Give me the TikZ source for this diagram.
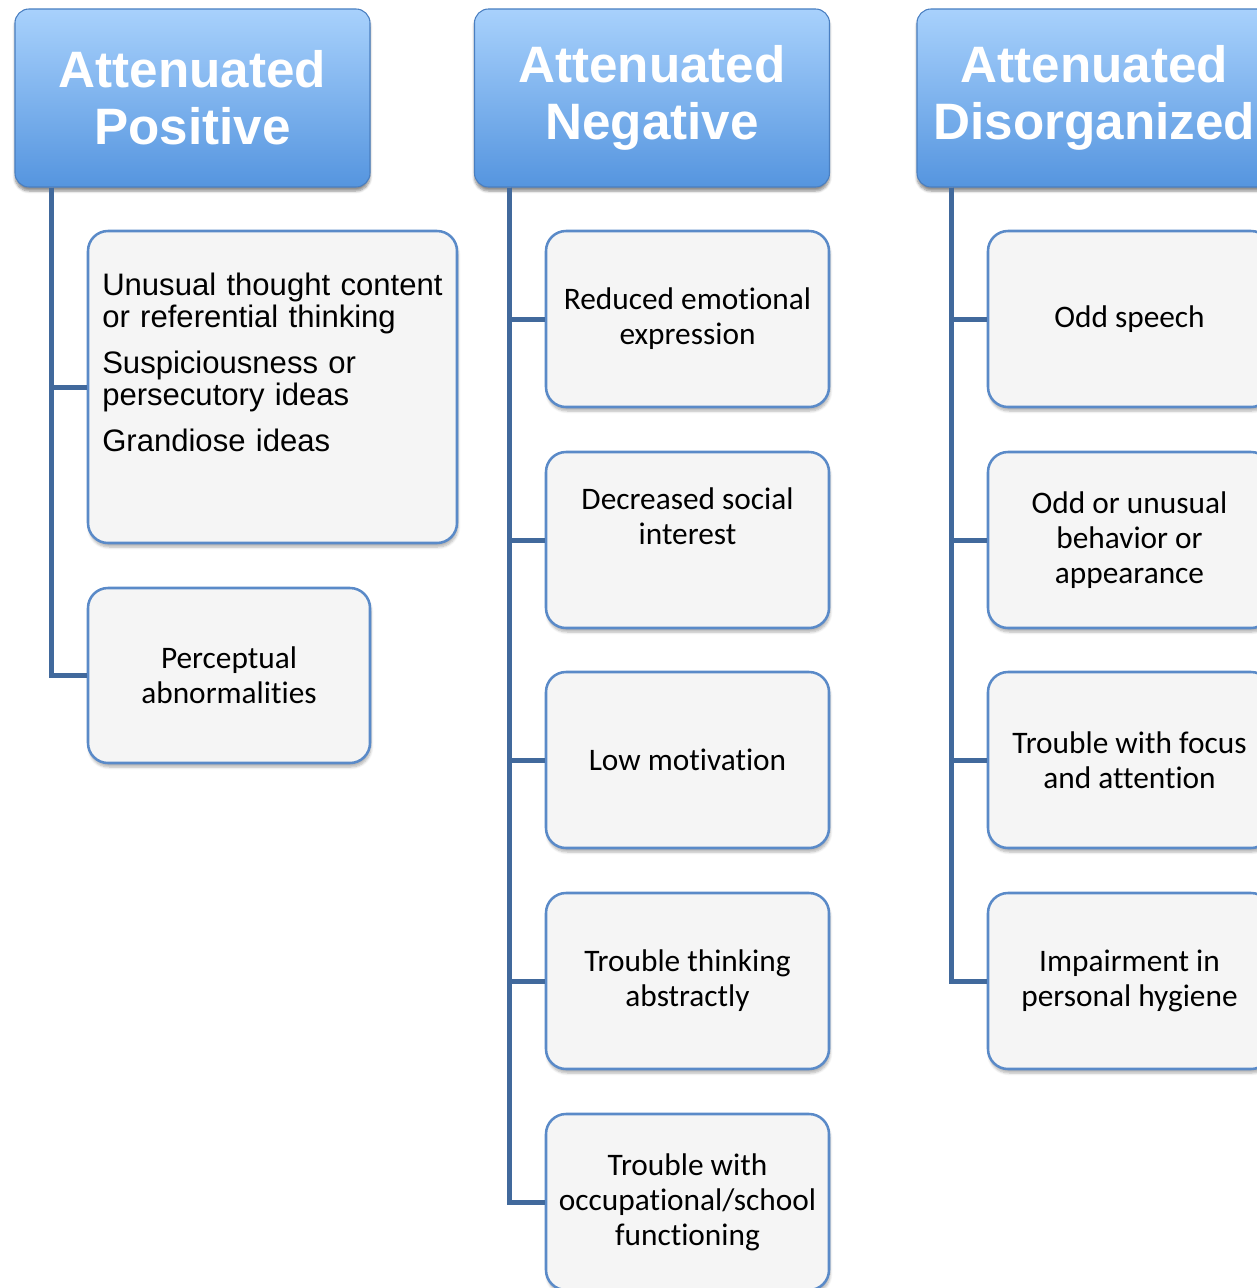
\documentclass[tikz,border=0pt]{standalone}
\usepackage{fontspec}
\setmainfont{Carlito}[Ligatures=CommonOff]
\newfontfamily\arialfont{Liberation Sans}
\usetikzlibrary{shadows.blur}

\definecolor{hdrtop}{HTML}{A8D1FC}
\definecolor{hdrbot}{HTML}{5595DF}
\definecolor{hdredge}{HTML}{4A7FC1}
\definecolor{linkblue}{HTML}{41699C}
\definecolor{boxedge}{HTML}{5A8AC8}
\definecolor{boxfill}{HTML}{F5F5F5}

\tikzset{
  header/.style={rounded corners=10.5pt, top color=hdrtop, bottom color=hdrbot,
    draw=hdredge, line width=0.8pt, minimum width=266.25pt, minimum height=133.5pt,
    inner sep=0pt, text=white, align=center,
    font=\arialfont\bfseries\fontsize{38.4}{42.75}\selectfont,
    blur shadow={shadow xshift=0pt, shadow yshift=-3pt, shadow opacity=45, shadow blur steps=6}},
  item/.style={rounded corners=15pt, fill=boxfill, draw=boxedge, line width=1.9pt,
    minimum width=212.25pt, minimum height=132pt, inner sep=0pt, align=center,
    font=\fontsize{23.5}{26.25}\selectfont,
    blur shadow={shadow xshift=0.8pt, shadow yshift=-3pt, shadow opacity=30, shadow blur steps=6}},
  itemtext/.style={inner sep=0pt, align=center, font=\fontsize{23.5}{26.25}\selectfont},
  link/.style={draw=linkblue, line width=3.75pt},
}

\begin{document}
\begin{tikzpicture}[x=0.75pt, y=-0.75pt]
  \useasboundingbox (0,0) rectangle (1256,1288);

  % column headers
  \node[header] (h1) at (192.5,98) {Attenuated\\Positive};
  \node[header] (h2) at (652,98) {Attenuated\\Negative};
  \node[header] (h3) at (1094.5,98) {Attenuated\\Disorganized};

  % positive symptoms
  \node[item, minimum width=276.75pt, minimum height=234pt] (p1) at (272.5,387) {};
  \node[inner sep=0pt, anchor=north west, text width=260pt, align=left,
        font=\arialfont\fontsize{23.3}{24}\selectfont] (p1t) at (102,273)
        {Unusual thought content\\or referential thinking\\[10.5pt]
         Suspiciousness or\\persecutory ideas\\[10.5pt]
         Grandiose ideas};
  \node[item, minimum width=211.5pt, minimum height=131.25pt] (p2) at (229,675.5)
        {Perceptual\\abnormalities};

  % negative symptoms
  \node[item] (n1) at (687.5,319) {Reduced emotional\\expression};
  \node[item] (n2) at (687.5,540) {};
  \node[itemtext] (n2t) at (687.5,516) {Decreased social\\interest};
  \node[item] (n3) at (687.5,760) {Low motivation};
  \node[item] (n4) at (687.5,981) {Trouble thinking\\abstractly};
  \node[item] (n5) at (687.5,1202) {Trouble with\\occupational/school\\functioning};

  % disorganized symptoms
  \node[item] (d1) at (1129.5,319) {Odd speech};
  \node[item] (d2) at (1129.5,540) {Odd or unusual\\behavior or\\appearance};
  \node[item] (d3) at (1129.5,760) {Trouble with focus\\and attention};
  \node[item] (d4) at (1129.5,981) {Impairment in\\personal hygiene};

  % tree connectors
  \foreach \c in {p1,p2}
    \draw[link] (h1.south west) ++(37,0) |- (\c.west);
  \foreach \c in {n1,n2,n3,n4,n5}
    \draw[link] (h2.south west) ++(36,0) |- (\c.west);
  \foreach \c in {d1,d2,d3,d4}
    \draw[link] (h3.south west) ++(35,0) |- (\c.west);
\end{tikzpicture}
\end{document}
